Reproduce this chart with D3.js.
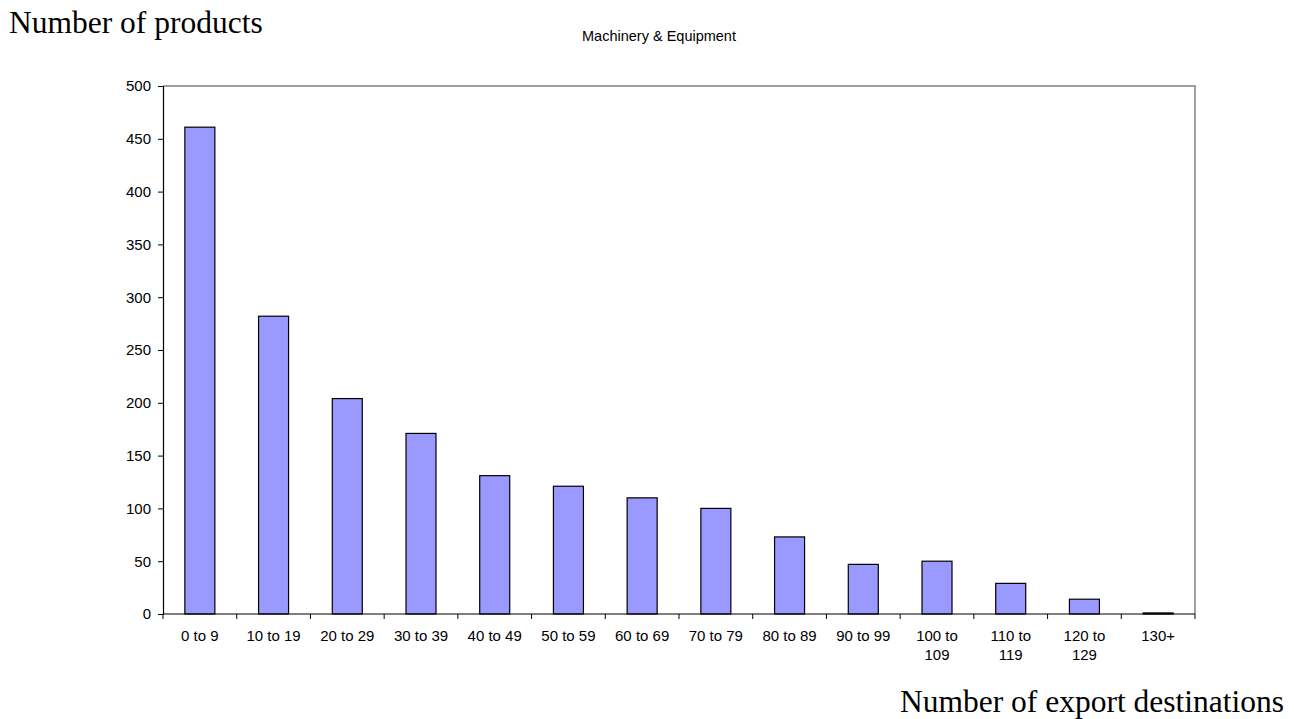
<!DOCTYPE html>
<html>
<head>
<meta charset="utf-8">
<script src="https://cdn.jsdelivr.net/npm/d3@7"></script>
<style>
  body { margin: 0; background: #fff; }
  svg text { font-family: "Liberation Sans", Arial, sans-serif; fill: #000; }
  .big { font-family: "Liberation Serif", "Times New Roman", serif !important; font-size: 31.5px; }
</style>
</head>
<body>
<svg id="chart" width="1294" height="719"></svg>
<script>
// --- Data ---
const categories = ["0 to 9", "10 to 19", "20 to 29", "30 to 39", "40 to 49", "50 to 59", "60 to 69",
  "70 to 79", "80 to 89", "90 to 99", "100 to|109", "110 to|119", "120 to|129", "130+"];
const products = [461, 282, 204, 171, 131, 121, 110, 100, 73, 47, 50, 29, 14, 1];
const yTicks = [0, 50, 100, 150, 200, 250, 300, 350, 400, 450, 500];

// --- Layout ---
const plotLeft = 163, plotRight = 1195, plotTop = 86, plotBottom = 614;
const svg = d3.select("#chart");

const x = d3.scaleBand().domain(categories).range([plotLeft, plotRight]).paddingInner(0.593).paddingOuter(0.2965);
const xAxisBand = d3.scaleBand().domain(categories).range([plotLeft, plotRight]);
const y = d3.scaleLinear().domain([0, 500]).range([plotBottom, plotTop]);

// plot frame (top/right in gray)
svg.append("path")
  .attr("d", `M${plotLeft},${plotTop} H${plotRight} V${plotBottom}`)
  .attr("fill", "none").attr("stroke", "#808080").attr("stroke-width", 1.5);

// bars
svg.append("g").selectAll("rect").data(products).join("rect")
  .attr("x", (d, i) => x(categories[i]))
  .attr("y", d => y(d))
  .attr("width", x.bandwidth())
  .attr("height", d => plotBottom - y(d))
  .attr("fill", "#9999ff").attr("stroke", "#000").attr("stroke-width", 1.2);

// y axis
const yAxis = svg.append("g").attr("transform", `translate(${plotLeft},0)`)
  .call(d3.axisLeft(y).tickValues(yTicks).tickSize(5).tickPadding(7));
yAxis.select(".domain").attr("stroke", "#000").attr("stroke-width", 1.2);
yAxis.selectAll("line").attr("stroke", "#000");
yAxis.selectAll("text").style("font-size", "15px").attr("fill", "#000");

// x axis line + ticks between categories
const xg = svg.append("g");
xg.append("line").attr("x1", plotLeft).attr("x2", plotRight).attr("y1", plotBottom).attr("y2", plotBottom)
  .attr("stroke", "#000").attr("stroke-width", 1.2);
const edges = categories.map(c => xAxisBand(c)).concat([plotRight]);
xg.selectAll(".tk").data(edges).join("line").attr("class", "tk")
  .attr("x1", d => d).attr("x2", d => d).attr("y1", plotBottom).attr("y2", plotBottom + 5)
  .attr("stroke", "#000");
xg.selectAll(".lbl").data(categories).join("text").attr("class", "lbl")
  .attr("x", d => xAxisBand(d) + xAxisBand.bandwidth() / 2)
  .attr("y", 641)
  .attr("text-anchor", "middle").style("font-size", "15px")
  .each(function(d) {
    const parts = d.split("|");
    parts.forEach((p, i) => {
      d3.select(this).append("tspan")
        .attr("x", xAxisBand(d) + xAxisBand.bandwidth() / 2)
        .attr("dy", i === 0 ? 0 : 19).text(p);
    });
  });

// titles
svg.append("text").attr("class", "big").attr("x", 9).attr("y", 33).text("Number of products");
svg.append("text").attr("x", 659).attr("y", 41).attr("text-anchor", "middle")
  .style("font-size", "14.5px").text("Machinery & Equipment");
svg.append("text").attr("class", "big").attr("x", 1284).attr("y", 712).attr("text-anchor", "end")
  .text("Number of export destinations");
</script>
</body>
</html>
